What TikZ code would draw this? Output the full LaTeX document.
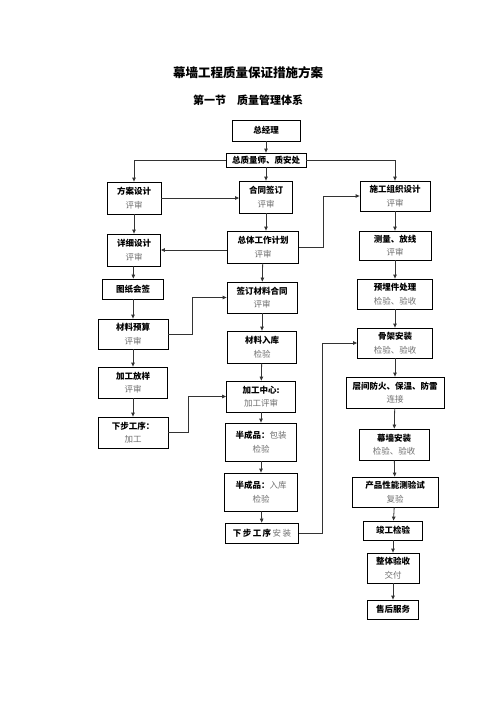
\documentclass[tikz,border=0pt]{standalone}
\usepackage{fontspec}
\setmainfont{Noto Sans CJK SC}
\usepackage{xcolor}
\definecolor{lineGray}{HTML}{333333}
\definecolor{subGray}{HTML}{707070}
\usepackage{tikz}
\usetikzlibrary{arrows.meta, positioning, calc}
\newcommand{\subtext}[1]{{\mdseries\color{subGray}#1}}

\begin{document}
\begin{tikzpicture}[
    x=1pt, y=-1pt,
    >={Triangle[length=4pt,width=3.5pt]},
    flowBox/.style={
        rectangle,
        draw=black,
        fill=white,
        line width=0.8pt,
        inner sep=0pt,
        align=center,
        font=\fontsize{8.5}{13.5}\selectfont\bfseries
    },
    arrowLine/.style={
        ->,
        line width=0.8pt,
        color=lineGray
    }
]
\useasboundingbox (0,0) rectangle (496,702);

% Titles
\node[font=\fontsize{12.5}{15}\selectfont\bfseries] (title) at (248,73) {幕墙工程质量保证措施方案};
\node[font=\fontsize{11}{14}\selectfont\bfseries] (subtitle) at (248,100) {第一节\quad 质量管理体系};

% Top
\node[flowBox, minimum width=68, minimum height=21] (zjl) at (266,130.5) {总经理};
\node[flowBox, minimum width=80, minimum height=14] (zzl) at (266,160) {总质量师、质安处};

% Left column
\node[flowBox, minimum width=54, minimum height=32] (fasj) at (134,198) {方案设计\\\subtext{评审}};
\node[flowBox, minimum width=53, minimum height=32] (xxsj) at (134,250) {详细设计\\\subtext{评审}};
\node[flowBox, minimum width=61, minimum height=20] (tzhq) at (133,289) {图纸会签};
\node[flowBox, minimum width=70, minimum height=30] (clys) at (133,334) {材料预算\\\subtext{评审}};
\node[flowBox, minimum width=69, minimum height=31] (jgfy) at (133,382.5) {加工放样\\\subtext{评审}};
\node[flowBox, minimum width=70, minimum height=31] (xbgx) at (133,432.5) {下步工序：\\\subtext{加工}};

% Middle column
\node[flowBox, minimum width=53, minimum height=32] (htqd) at (266,197) {合同签订\\\subtext{评审}};
\node[flowBox, minimum width=71, minimum height=32] (ztjh) at (263,247) {总体工作计划\\\subtext{评审}};
\node[flowBox, minimum width=70, minimum height=31] (qdcl) at (262,297.5) {签订材料合同\\\subtext{评审}};
\node[flowBox, minimum width=69, minimum height=32] (clrk) at (262,347) {材料入库\\\subtext{检验}};
\node[flowBox, minimum width=69, minimum height=31] (jgzx) at (261,396.5) {加工中心:\\\subtext{加工评审}};
\node[flowBox, minimum width=71, minimum height=38] (bcpa) at (261,442) {半成品：\subtext{包装}\\\subtext{检验}};
\node[flowBox, minimum width=73, minimum height=38] (bcpb) at (261,492) {半成品：\subtext{入库}\\\subtext{检验}};
\node[flowBox, minimum width=73, minimum height=20] (xbaz) at (262,533) {下\,步\,工\,序\,\subtext{安\,装}};

% Right column
\node[flowBox, minimum width=70, minimum height=30] (sgzz) at (395,196) {施工组织设计\\\subtext{评审}};
\node[flowBox, minimum width=72, minimum height=29] (clfx) at (395,245.5) {测量、放线\\\subtext{评审}};
\node[flowBox, minimum width=75, minimum height=30] (ymj) at (395,294) {预埋件处理\\\subtext{检验、验收}};
\node[flowBox, minimum width=75, minimum height=30] (gjaz) at (395,343) {骨架安装\\\subtext{检验、验收}};
\node[flowBox, minimum width=98, minimum height=31] (cjfh) at (395,392.5) {层间防火、保温、防雷\\\subtext{连接}};
\node[flowBox, minimum width=70, minimum height=31] (mqaz) at (394,444.5) {幕墙安装\\\subtext{检验、验收}};
\node[flowBox, minimum width=86, minimum height=30] (cpxn) at (395,492) {产品性能测验试\\\subtext{复验}};
\node[flowBox, minimum width=59, minimum height=19] (jgjy) at (393,530.5) {竣工检验};
\node[flowBox, minimum width=52, minimum height=30] (ztys) at (393,568) {整体验收\\\subtext{交付}};
\node[flowBox, minimum width=51, minimum height=19] (shfw) at (393,609.5) {售后服务};

% Top connections
\draw[arrowLine] (zjl) -- (zzl);
\draw[arrowLine] (zzl) -- (htqd);
\draw[arrowLine] (zzl.west) -| (fasj.north);
\draw[arrowLine] (zzl.east) -| (sgzz.north);

% Left column arrows
\draw[arrowLine] (fasj) -- (xxsj);
\draw[arrowLine] (xxsj) -- (tzhq);
\draw[arrowLine] (tzhq) -- (clys);
\draw[arrowLine] (clys) -- (jgfy);
\draw[arrowLine] (jgfy) -- (xbgx);

% Middle column arrows
\draw[arrowLine] (htqd.south) -- (htqd.south |- ztjh.north);
\draw[arrowLine] (ztjh) -- (qdcl);
\draw[arrowLine] (qdcl) -- (clrk);
\draw[arrowLine] (clrk) -- (jgzx);
\draw[arrowLine] (jgzx) -- (bcpa);
\draw[arrowLine] (bcpa) -- (bcpb);
\draw[arrowLine] (bcpb) -- (xbaz);

% Right column arrows
\draw[arrowLine] (sgzz) -- (clfx);
\draw[arrowLine] (clfx) -- (ymj);
\draw[arrowLine] (ymj) -- (gjaz);
\draw[arrowLine] (gjaz) -- (cjfh);
\draw[arrowLine] (cjfh) -- (mqaz);
\draw[arrowLine] (mqaz) -- (cpxn);
\draw[arrowLine] (cpxn) -- (jgjy);
\draw[arrowLine] (jgjy) -- (ztys);
\draw[arrowLine] (ztys) -- (shfw);

% Cross connections
\draw[arrowLine] (fasj.east) -- (fasj.east -| htqd.west);
\draw[arrowLine] (ztjh.west |- xxsj.east) -- (xxsj.east);
\coordinate (jhTurn) at (323,247);
\draw[arrowLine] (ztjh.east) -- (jhTurn) |- (sgzz.west);
\coordinate (ysTurn) at (192,334);
\draw[arrowLine] (clys.east) -- (ysTurn) |- (qdcl.west);
\coordinate (gxTurn) at (188,432.5);
\draw[arrowLine] (xbgx.east) -- (gxTurn) |- (jgzx.west);
\coordinate (azTurn) at (322,533);
\draw[arrowLine] (xbaz.east) -- (azTurn) |- (gjaz.west);

\end{tikzpicture}
\end{document}
